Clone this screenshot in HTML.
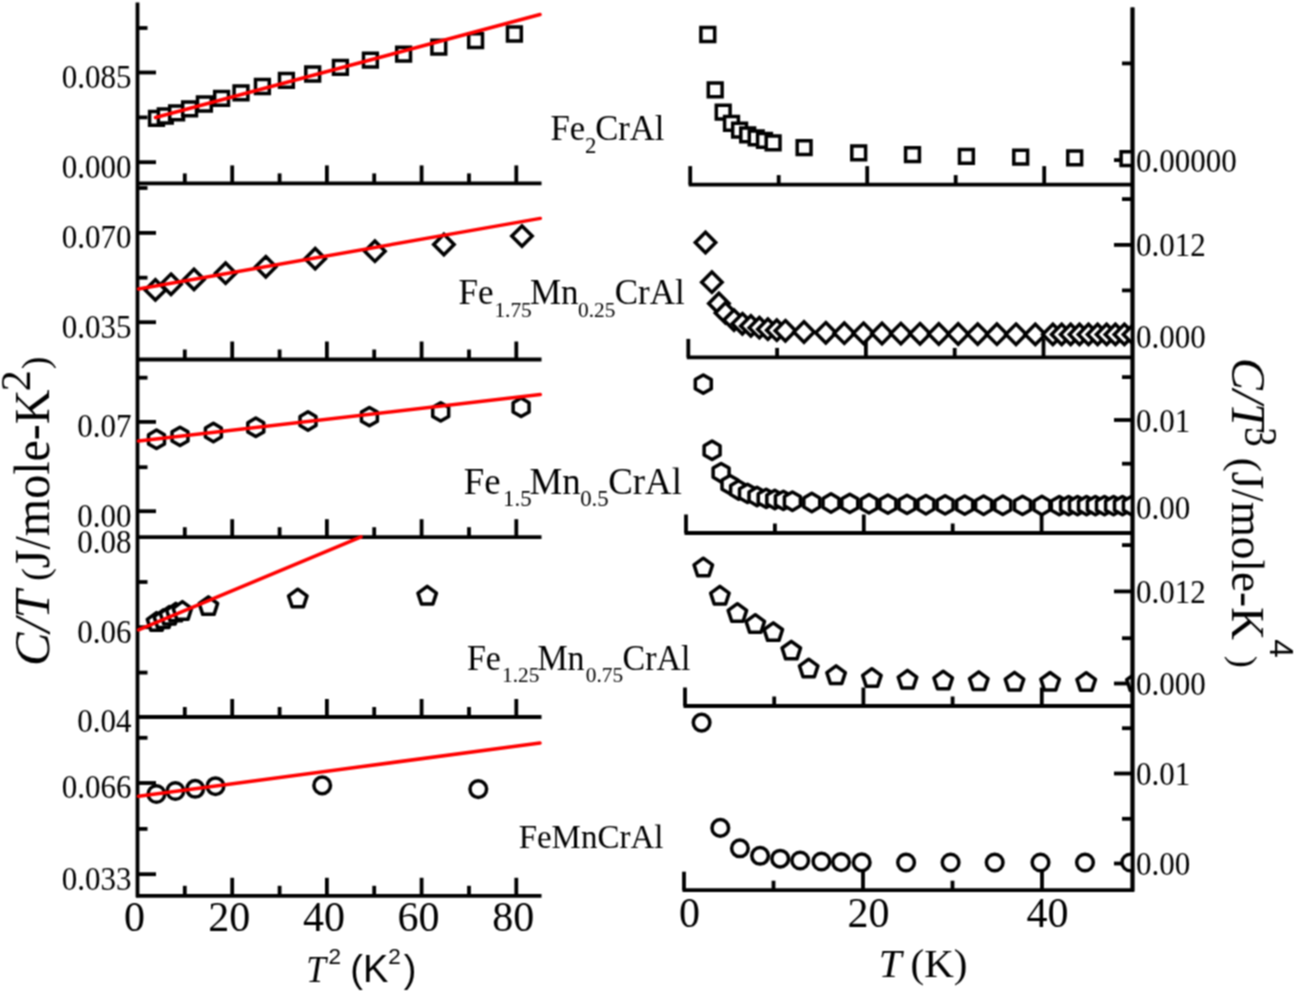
<!DOCTYPE html>
<html><head><meta charset="utf-8"><style>html,body{margin:0;padding:0;background:#fff;}svg{display:block}</style></head>
<body><div style=""><svg width="1296" height="993" viewBox="0 0 1296 993" style="will-change:transform">
<rect width="1296" height="993" fill="#fff"/>
<defs><filter id="soft" x="0" y="0" width="1296" height="993" filterUnits="userSpaceOnUse" color-interpolation-filters="sRGB"><feConvolveMatrix order="3" kernelMatrix="1 2 1 2 4 2 1 2 1" edgeMode="duplicate"/></filter></defs><g filter="url(#soft)">
<line x1="137.5" y1="2.5" x2="137.5" y2="897.3" stroke="#000" stroke-width="3.8"/>
<line x1="136.0" y1="183.4" x2="541.5" y2="183.4" stroke="#000" stroke-width="3.8"/>
<line x1="136.0" y1="359.5" x2="541.5" y2="359.5" stroke="#000" stroke-width="3.8"/>
<line x1="136.0" y1="537.2" x2="541.5" y2="537.2" stroke="#000" stroke-width="3.8"/>
<line x1="136.0" y1="717.0" x2="541.5" y2="717.0" stroke="#000" stroke-width="3.8"/>
<line x1="136.0" y1="895.8" x2="541.5" y2="895.8" stroke="#000" stroke-width="3.8"/>
<line x1="184.8" y1="183.4" x2="184.8" y2="173.4" stroke="#000" stroke-width="3.8"/>
<line x1="232.2" y1="183.4" x2="232.2" y2="165.4" stroke="#000" stroke-width="3.8"/>
<line x1="279.6" y1="183.4" x2="279.6" y2="173.4" stroke="#000" stroke-width="3.8"/>
<line x1="326.9" y1="183.4" x2="326.9" y2="165.4" stroke="#000" stroke-width="3.8"/>
<line x1="374.2" y1="183.4" x2="374.2" y2="173.4" stroke="#000" stroke-width="3.8"/>
<line x1="421.6" y1="183.4" x2="421.6" y2="165.4" stroke="#000" stroke-width="3.8"/>
<line x1="469.0" y1="183.4" x2="469.0" y2="173.4" stroke="#000" stroke-width="3.8"/>
<line x1="516.3" y1="183.4" x2="516.3" y2="165.4" stroke="#000" stroke-width="3.8"/>
<line x1="184.8" y1="359.5" x2="184.8" y2="349.5" stroke="#000" stroke-width="3.8"/>
<line x1="232.2" y1="359.5" x2="232.2" y2="341.5" stroke="#000" stroke-width="3.8"/>
<line x1="279.6" y1="359.5" x2="279.6" y2="349.5" stroke="#000" stroke-width="3.8"/>
<line x1="326.9" y1="359.5" x2="326.9" y2="341.5" stroke="#000" stroke-width="3.8"/>
<line x1="374.2" y1="359.5" x2="374.2" y2="349.5" stroke="#000" stroke-width="3.8"/>
<line x1="421.6" y1="359.5" x2="421.6" y2="341.5" stroke="#000" stroke-width="3.8"/>
<line x1="469.0" y1="359.5" x2="469.0" y2="349.5" stroke="#000" stroke-width="3.8"/>
<line x1="516.3" y1="359.5" x2="516.3" y2="341.5" stroke="#000" stroke-width="3.8"/>
<line x1="184.8" y1="537.2" x2="184.8" y2="527.2" stroke="#000" stroke-width="3.8"/>
<line x1="232.2" y1="537.2" x2="232.2" y2="519.2" stroke="#000" stroke-width="3.8"/>
<line x1="279.6" y1="537.2" x2="279.6" y2="527.2" stroke="#000" stroke-width="3.8"/>
<line x1="326.9" y1="537.2" x2="326.9" y2="519.2" stroke="#000" stroke-width="3.8"/>
<line x1="374.2" y1="537.2" x2="374.2" y2="527.2" stroke="#000" stroke-width="3.8"/>
<line x1="421.6" y1="537.2" x2="421.6" y2="519.2" stroke="#000" stroke-width="3.8"/>
<line x1="469.0" y1="537.2" x2="469.0" y2="527.2" stroke="#000" stroke-width="3.8"/>
<line x1="516.3" y1="537.2" x2="516.3" y2="519.2" stroke="#000" stroke-width="3.8"/>
<line x1="184.8" y1="717.0" x2="184.8" y2="707.0" stroke="#000" stroke-width="3.8"/>
<line x1="232.2" y1="717.0" x2="232.2" y2="699.0" stroke="#000" stroke-width="3.8"/>
<line x1="279.6" y1="717.0" x2="279.6" y2="707.0" stroke="#000" stroke-width="3.8"/>
<line x1="326.9" y1="717.0" x2="326.9" y2="699.0" stroke="#000" stroke-width="3.8"/>
<line x1="374.2" y1="717.0" x2="374.2" y2="707.0" stroke="#000" stroke-width="3.8"/>
<line x1="421.6" y1="717.0" x2="421.6" y2="699.0" stroke="#000" stroke-width="3.8"/>
<line x1="469.0" y1="717.0" x2="469.0" y2="707.0" stroke="#000" stroke-width="3.8"/>
<line x1="516.3" y1="717.0" x2="516.3" y2="699.0" stroke="#000" stroke-width="3.8"/>
<line x1="184.8" y1="895.8" x2="184.8" y2="885.8" stroke="#000" stroke-width="3.8"/>
<line x1="232.2" y1="895.8" x2="232.2" y2="877.8" stroke="#000" stroke-width="3.8"/>
<line x1="279.6" y1="895.8" x2="279.6" y2="885.8" stroke="#000" stroke-width="3.8"/>
<line x1="326.9" y1="895.8" x2="326.9" y2="877.8" stroke="#000" stroke-width="3.8"/>
<line x1="374.2" y1="895.8" x2="374.2" y2="885.8" stroke="#000" stroke-width="3.8"/>
<line x1="421.6" y1="895.8" x2="421.6" y2="877.8" stroke="#000" stroke-width="3.8"/>
<line x1="469.0" y1="895.8" x2="469.0" y2="885.8" stroke="#000" stroke-width="3.8"/>
<line x1="516.3" y1="895.8" x2="516.3" y2="877.8" stroke="#000" stroke-width="3.8"/>
<line x1="137.5" y1="72.5" x2="156.0" y2="72.5" stroke="#000" stroke-width="3.8"/>
<line x1="137.5" y1="162.2" x2="156.0" y2="162.2" stroke="#000" stroke-width="3.8"/>
<line x1="137.5" y1="28.0" x2="147.5" y2="28.0" stroke="#000" stroke-width="3.8"/>
<line x1="137.5" y1="117.4" x2="147.5" y2="117.4" stroke="#000" stroke-width="3.8"/>
<line x1="137.5" y1="232.9" x2="156.0" y2="232.9" stroke="#000" stroke-width="3.8"/>
<line x1="137.5" y1="322.2" x2="156.0" y2="322.2" stroke="#000" stroke-width="3.8"/>
<line x1="137.5" y1="188.0" x2="147.5" y2="188.0" stroke="#000" stroke-width="3.8"/>
<line x1="137.5" y1="277.7" x2="147.5" y2="277.7" stroke="#000" stroke-width="3.8"/>
<line x1="137.5" y1="421.9" x2="156.0" y2="421.9" stroke="#000" stroke-width="3.8"/>
<line x1="137.5" y1="511.2" x2="156.0" y2="511.2" stroke="#000" stroke-width="3.8"/>
<line x1="137.5" y1="377.7" x2="147.5" y2="377.7" stroke="#000" stroke-width="3.8"/>
<line x1="137.5" y1="467.2" x2="147.5" y2="467.2" stroke="#000" stroke-width="3.8"/>
<line x1="137.5" y1="627.2" x2="156.0" y2="627.2" stroke="#000" stroke-width="3.8"/>
<line x1="137.5" y1="582.0" x2="147.5" y2="582.0" stroke="#000" stroke-width="3.8"/>
<line x1="137.5" y1="672.6" x2="147.5" y2="672.6" stroke="#000" stroke-width="3.8"/>
<line x1="137.5" y1="783.0" x2="156.0" y2="783.0" stroke="#000" stroke-width="3.8"/>
<line x1="137.5" y1="874.2" x2="156.0" y2="874.2" stroke="#000" stroke-width="3.8"/>
<line x1="137.5" y1="737.8" x2="147.5" y2="737.8" stroke="#000" stroke-width="3.8"/>
<line x1="137.5" y1="828.9" x2="147.5" y2="828.9" stroke="#000" stroke-width="3.8"/>
<text transform="translate(131.5,87.9) scale(0.94,1)" font-size="33" font-family="Liberation Serif" text-anchor="end" >0.085</text>
<text transform="translate(131.5,177.6) scale(0.94,1)" font-size="33" font-family="Liberation Serif" text-anchor="end" >0.000</text>
<text transform="translate(131.5,248.3) scale(0.94,1)" font-size="33" font-family="Liberation Serif" text-anchor="end" >0.070</text>
<text transform="translate(131.5,337.6) scale(0.94,1)" font-size="33" font-family="Liberation Serif" text-anchor="end" >0.035</text>
<text transform="translate(131.5,437.3) scale(0.94,1)" font-size="33" font-family="Liberation Serif" text-anchor="end" >0.07</text>
<text transform="translate(131.5,526.6) scale(0.94,1)" font-size="33" font-family="Liberation Serif" text-anchor="end" >0.00</text>
<text transform="translate(131.5,552.7) scale(0.94,1)" font-size="33" font-family="Liberation Serif" text-anchor="end" >0.08</text>
<text transform="translate(131.5,642.6) scale(0.94,1)" font-size="33" font-family="Liberation Serif" text-anchor="end" >0.06</text>
<text transform="translate(131.5,732.4) scale(0.94,1)" font-size="33" font-family="Liberation Serif" text-anchor="end" >0.04</text>
<text transform="translate(131.5,798.4) scale(0.94,1)" font-size="33" font-family="Liberation Serif" text-anchor="end" >0.066</text>
<text transform="translate(131.5,889.6) scale(0.94,1)" font-size="33" font-family="Liberation Serif" text-anchor="end" >0.033</text>
<text transform="translate(134.5,930.5) scale(1.0,1)" font-size="42" font-family="Liberation Serif" text-anchor="middle" >0</text>
<text transform="translate(229.2,930.5) scale(1.0,1)" font-size="42" font-family="Liberation Serif" text-anchor="middle" >20</text>
<text transform="translate(323.9,930.5) scale(1.0,1)" font-size="42" font-family="Liberation Serif" text-anchor="middle" >40</text>
<text transform="translate(418.6,930.5) scale(1.0,1)" font-size="42" font-family="Liberation Serif" text-anchor="middle" >60</text>
<text transform="translate(513.3,930.5) scale(1.0,1)" font-size="42" font-family="Liberation Serif" text-anchor="middle" >80</text>
<line x1="1132.5" y1="7.5" x2="1132.5" y2="891.6" stroke="#000" stroke-width="3.8"/>
<line x1="688.7" y1="184.6" x2="1134.0" y2="184.6" stroke="#000" stroke-width="3.8"/>
<line x1="690.2" y1="184.6" x2="690.2" y2="166.1" stroke="#000" stroke-width="3.8"/>
<line x1="778.7" y1="184.6" x2="778.7" y2="175.1" stroke="#000" stroke-width="3.8"/>
<line x1="867.2" y1="184.6" x2="867.2" y2="166.1" stroke="#000" stroke-width="3.8"/>
<line x1="955.7" y1="184.6" x2="955.7" y2="175.1" stroke="#000" stroke-width="3.8"/>
<line x1="1044.2" y1="184.6" x2="1044.2" y2="166.1" stroke="#000" stroke-width="3.8"/>
<line x1="686.8" y1="357.4" x2="1134.0" y2="357.4" stroke="#000" stroke-width="3.8"/>
<line x1="688.3" y1="357.4" x2="688.3" y2="338.9" stroke="#000" stroke-width="3.8"/>
<line x1="777.1" y1="357.4" x2="777.1" y2="347.9" stroke="#000" stroke-width="3.8"/>
<line x1="865.9" y1="357.4" x2="865.9" y2="338.9" stroke="#000" stroke-width="3.8"/>
<line x1="954.7" y1="357.4" x2="954.7" y2="347.9" stroke="#000" stroke-width="3.8"/>
<line x1="1043.5" y1="357.4" x2="1043.5" y2="338.9" stroke="#000" stroke-width="3.8"/>
<line x1="684.5" y1="533.0" x2="1134.0" y2="533.0" stroke="#000" stroke-width="3.8"/>
<line x1="686.0" y1="533.0" x2="686.0" y2="514.5" stroke="#000" stroke-width="3.8"/>
<line x1="774.9" y1="533.0" x2="774.9" y2="523.5" stroke="#000" stroke-width="3.8"/>
<line x1="863.8" y1="533.0" x2="863.8" y2="514.5" stroke="#000" stroke-width="3.8"/>
<line x1="952.7" y1="533.0" x2="952.7" y2="523.5" stroke="#000" stroke-width="3.8"/>
<line x1="1041.6" y1="533.0" x2="1041.6" y2="514.5" stroke="#000" stroke-width="3.8"/>
<line x1="683.5" y1="706.0" x2="1134.0" y2="706.0" stroke="#000" stroke-width="3.8"/>
<line x1="685.0" y1="706.0" x2="685.0" y2="687.5" stroke="#000" stroke-width="3.8"/>
<line x1="774.2" y1="706.0" x2="774.2" y2="696.5" stroke="#000" stroke-width="3.8"/>
<line x1="863.4" y1="706.0" x2="863.4" y2="687.5" stroke="#000" stroke-width="3.8"/>
<line x1="952.6" y1="706.0" x2="952.6" y2="696.5" stroke="#000" stroke-width="3.8"/>
<line x1="1041.8" y1="706.0" x2="1041.8" y2="687.5" stroke="#000" stroke-width="3.8"/>
<line x1="682.5" y1="890.2" x2="1134.0" y2="890.2" stroke="#000" stroke-width="3.8"/>
<line x1="684.0" y1="890.2" x2="684.0" y2="871.7" stroke="#000" stroke-width="3.8"/>
<line x1="773.5" y1="890.2" x2="773.5" y2="880.7" stroke="#000" stroke-width="3.8"/>
<line x1="863.0" y1="890.2" x2="863.0" y2="871.7" stroke="#000" stroke-width="3.8"/>
<line x1="952.5" y1="890.2" x2="952.5" y2="880.7" stroke="#000" stroke-width="3.8"/>
<line x1="1042.0" y1="890.2" x2="1042.0" y2="871.7" stroke="#000" stroke-width="3.8"/>
<line x1="1132.5" y1="63.4" x2="1122.0" y2="63.4" stroke="#000" stroke-width="3.8"/>
<line x1="1132.5" y1="160.1" x2="1114.0" y2="160.1" stroke="#000" stroke-width="3.8"/>
<line x1="1132.5" y1="199.1" x2="1122.0" y2="199.1" stroke="#000" stroke-width="3.8"/>
<line x1="1132.5" y1="244.9" x2="1114.0" y2="244.9" stroke="#000" stroke-width="3.8"/>
<line x1="1132.5" y1="290.4" x2="1122.0" y2="290.4" stroke="#000" stroke-width="3.8"/>
<line x1="1132.5" y1="336.1" x2="1114.0" y2="336.1" stroke="#000" stroke-width="3.8"/>
<line x1="1132.5" y1="377.1" x2="1122.0" y2="377.1" stroke="#000" stroke-width="3.8"/>
<line x1="1132.5" y1="420.0" x2="1114.0" y2="420.0" stroke="#000" stroke-width="3.8"/>
<line x1="1132.5" y1="463.7" x2="1122.0" y2="463.7" stroke="#000" stroke-width="3.8"/>
<line x1="1132.5" y1="507.0" x2="1114.0" y2="507.0" stroke="#000" stroke-width="3.8"/>
<line x1="1132.5" y1="545.1" x2="1122.0" y2="545.1" stroke="#000" stroke-width="3.8"/>
<line x1="1132.5" y1="591.4" x2="1114.0" y2="591.4" stroke="#000" stroke-width="3.8"/>
<line x1="1132.5" y1="638.2" x2="1122.0" y2="638.2" stroke="#000" stroke-width="3.8"/>
<line x1="1132.5" y1="683.5" x2="1114.0" y2="683.5" stroke="#000" stroke-width="3.8"/>
<line x1="1132.5" y1="728.2" x2="1122.0" y2="728.2" stroke="#000" stroke-width="3.8"/>
<line x1="1132.5" y1="773.5" x2="1114.0" y2="773.5" stroke="#000" stroke-width="3.8"/>
<line x1="1132.5" y1="818.8" x2="1122.0" y2="818.8" stroke="#000" stroke-width="3.8"/>
<line x1="1132.5" y1="863.5" x2="1114.0" y2="863.5" stroke="#000" stroke-width="3.8"/>
<text transform="translate(1136.0,171.6) scale(0.94,1)" font-size="33" font-family="Liberation Serif" text-anchor="start" >0.00000</text>
<text transform="translate(1136.0,256.4) scale(0.94,1)" font-size="33" font-family="Liberation Serif" text-anchor="start" >0.012</text>
<text transform="translate(1136.0,347.6) scale(0.94,1)" font-size="33" font-family="Liberation Serif" text-anchor="start" >0.000</text>
<text transform="translate(1136.0,431.5) scale(0.94,1)" font-size="33" font-family="Liberation Serif" text-anchor="start" >0.01</text>
<text transform="translate(1136.0,518.5) scale(0.94,1)" font-size="33" font-family="Liberation Serif" text-anchor="start" >0.00</text>
<text transform="translate(1136.0,602.9) scale(0.94,1)" font-size="33" font-family="Liberation Serif" text-anchor="start" >0.012</text>
<text transform="translate(1136.0,695.0) scale(0.94,1)" font-size="33" font-family="Liberation Serif" text-anchor="start" >0.000</text>
<text transform="translate(1136.0,785.0) scale(0.94,1)" font-size="33" font-family="Liberation Serif" text-anchor="start" >0.01</text>
<text transform="translate(1136.0,875.0) scale(0.94,1)" font-size="33" font-family="Liberation Serif" text-anchor="start" >0.00</text>
<text transform="translate(689.5,927.3) scale(1.0,1)" font-size="42" font-family="Liberation Serif" text-anchor="middle" >0</text>
<text transform="translate(868.5,927.3) scale(1.0,1)" font-size="42" font-family="Liberation Serif" text-anchor="middle" >20</text>
<text transform="translate(1047.5,927.3) scale(1.0,1)" font-size="42" font-family="Liberation Serif" text-anchor="middle" >40</text>
<defs><clipPath id="cr"><rect x="0" y="0" width="1133" height="993"/></clipPath></defs>
<g fill="#fff" stroke="#000" stroke-width="3.5" stroke-linejoin="miter" clip-path="url(#cr)">
<polygon points="149.60,111.40 163.40,111.40 163.40,125.20 149.60,125.20"/>
<polygon points="158.40,109.10 172.20,109.10 172.20,122.90 158.40,122.90"/>
<polygon points="169.70,105.90 183.50,105.90 183.50,119.70 169.70,119.70"/>
<polygon points="182.70,101.90 196.50,101.90 196.50,115.70 182.70,115.70"/>
<polygon points="197.50,97.10 211.30,97.10 211.30,110.90 197.50,110.90"/>
<polygon points="214.70,91.40 228.50,91.40 228.50,105.20 214.70,105.20"/>
<polygon points="234.10,86.00 247.90,86.00 247.90,99.80 234.10,99.80"/>
<polygon points="255.50,79.60 269.30,79.60 269.30,93.40 255.50,93.40"/>
<polygon points="279.50,73.40 293.30,73.40 293.30,87.20 279.50,87.20"/>
<polygon points="305.80,67.10 319.60,67.10 319.60,80.90 305.80,80.90"/>
<polygon points="333.50,60.40 347.30,60.40 347.30,74.20 333.50,74.20"/>
<polygon points="363.50,53.30 377.30,53.30 377.30,67.10 363.50,67.10"/>
<polygon points="396.70,47.30 410.50,47.30 410.50,61.10 396.70,61.10"/>
<polygon points="431.90,40.30 445.70,40.30 445.70,54.10 431.90,54.10"/>
<polygon points="468.70,33.70 482.50,33.70 482.50,47.50 468.70,47.50"/>
<polygon points="507.50,27.10 521.30,27.10 521.30,40.90 507.50,40.90"/>
<polygon points="700.90,27.60 714.70,27.60 714.70,41.40 700.90,41.40"/>
<polygon points="708.30,83.00 722.10,83.00 722.10,96.80 708.30,96.80"/>
<polygon points="716.30,105.30 730.10,105.30 730.10,119.10 716.30,119.10"/>
<polygon points="724.60,116.50 738.40,116.50 738.40,130.30 724.60,130.30"/>
<polygon points="732.70,123.30 746.50,123.30 746.50,137.10 732.70,137.10"/>
<polygon points="740.80,128.00 754.60,128.00 754.60,141.80 740.80,141.80"/>
<polygon points="749.30,131.00 763.10,131.00 763.10,144.80 749.30,144.80"/>
<polygon points="757.60,133.50 771.40,133.50 771.40,147.30 757.60,147.30"/>
<polygon points="766.20,135.90 780.00,135.90 780.00,149.70 766.20,149.70"/>
<polygon points="797.20,140.70 811.00,140.70 811.00,154.50 797.20,154.50"/>
<polygon points="851.80,145.90 865.60,145.90 865.60,159.70 851.80,159.70"/>
<polygon points="905.60,147.80 919.40,147.80 919.40,161.60 905.60,161.60"/>
<polygon points="959.50,149.50 973.30,149.50 973.30,163.30 959.50,163.30"/>
<polygon points="1013.80,150.20 1027.60,150.20 1027.60,164.00 1013.80,164.00"/>
<polygon points="1067.80,150.90 1081.60,150.90 1081.60,164.70 1067.80,164.70"/>
<polygon points="1121.10,151.70 1134.90,151.70 1134.90,165.50 1121.10,165.50"/>
<polygon points="155.40,279.70 165.60,289.90 155.40,300.10 145.20,289.90"/>
<polygon points="171.00,274.10 181.20,284.30 171.00,294.50 160.80,284.30"/>
<polygon points="194.00,269.20 204.20,279.40 194.00,289.60 183.80,279.40"/>
<polygon points="225.60,263.00 235.80,273.20 225.60,283.40 215.40,273.20"/>
<polygon points="265.80,256.60 276.00,266.80 265.80,277.00 255.60,266.80"/>
<polygon points="315.20,248.50 325.40,258.70 315.20,268.90 305.00,258.70"/>
<polygon points="374.90,241.00 385.10,251.20 374.90,261.40 364.70,251.20"/>
<polygon points="443.90,234.30 454.10,244.50 443.90,254.70 433.70,244.50"/>
<polygon points="522.00,225.90 532.20,236.10 522.00,246.30 511.80,236.10"/>
<polygon points="705.50,232.30 715.70,242.50 705.50,252.70 695.30,242.50"/>
<polygon points="711.90,272.00 722.10,282.20 711.90,292.40 701.70,282.20"/>
<polygon points="718.90,293.30 729.10,303.50 718.90,313.70 708.70,303.50"/>
<polygon points="725.50,302.70 735.70,312.90 725.50,323.10 715.30,312.90"/>
<polygon points="734.00,309.90 744.20,320.10 734.00,330.30 723.80,320.10"/>
<polygon points="742.40,313.60 752.60,323.80 742.40,334.00 732.20,323.80"/>
<polygon points="750.90,315.70 761.10,325.90 750.90,336.10 740.70,325.90"/>
<polygon points="759.40,317.50 769.60,327.70 759.40,337.90 749.20,327.70"/>
<polygon points="767.90,319.00 778.10,329.20 767.90,339.40 757.70,329.20"/>
<polygon points="776.80,320.00 787.00,330.20 776.80,340.40 766.60,330.20"/>
<polygon points="785.40,320.60 795.60,330.80 785.40,341.00 775.20,330.80"/>
<polygon points="804.00,321.80 814.20,332.00 804.00,342.20 793.80,332.00"/>
<polygon points="825.80,322.60 836.00,332.80 825.80,343.00 815.60,332.80"/>
<polygon points="844.30,323.00 854.50,333.20 844.30,343.40 834.10,333.20"/>
<polygon points="863.50,323.10 873.70,333.30 863.50,343.50 853.30,333.30"/>
<polygon points="882.00,323.30 892.20,333.50 882.00,343.70 871.80,333.50"/>
<polygon points="900.90,323.40 911.10,333.60 900.90,343.80 890.70,333.60"/>
<polygon points="920.00,323.60 930.20,333.80 920.00,344.00 909.80,333.80"/>
<polygon points="938.80,323.80 949.00,334.00 938.80,344.20 928.60,334.00"/>
<polygon points="958.20,323.80 968.40,334.00 958.20,344.20 948.00,334.00"/>
<polygon points="977.70,323.90 987.90,334.10 977.70,344.30 967.50,334.10"/>
<polygon points="996.90,324.00 1007.10,334.20 996.90,344.40 986.70,334.20"/>
<polygon points="1016.00,324.10 1026.20,334.30 1016.00,344.50 1005.80,334.30"/>
<polygon points="1035.30,324.20 1045.50,334.40 1035.30,344.60 1025.10,334.40"/>
<polygon points="1052.90,324.20 1063.10,334.40 1052.90,344.60 1042.70,334.40"/>
<polygon points="1061.70,324.20 1071.90,334.40 1061.70,344.60 1051.50,334.40"/>
<polygon points="1070.70,324.20 1080.90,334.40 1070.70,344.60 1060.50,334.40"/>
<polygon points="1079.50,324.20 1089.70,334.40 1079.50,344.60 1069.30,334.40"/>
<polygon points="1088.50,324.20 1098.70,334.40 1088.50,344.60 1078.30,334.40"/>
<polygon points="1097.60,324.20 1107.80,334.40 1097.60,344.60 1087.40,334.40"/>
<polygon points="1106.60,324.20 1116.80,334.40 1106.60,344.60 1096.40,334.40"/>
<polygon points="1115.40,324.20 1125.60,334.40 1115.40,344.60 1105.20,334.40"/>
<polygon points="1124.40,324.20 1134.60,334.40 1124.40,344.60 1114.20,334.40"/>
<polygon points="1133.50,324.20 1143.70,334.40 1133.50,344.60 1123.30,334.40"/>
<polygon stroke-linejoin="round" points="156.50,430.10 164.47,434.70 164.47,443.90 156.50,448.50 148.53,443.90 148.53,434.70"/>
<polygon stroke-linejoin="round" points="180.00,427.20 187.97,431.80 187.97,441.00 180.00,445.60 172.03,441.00 172.03,431.80"/>
<polygon stroke-linejoin="round" points="213.40,423.30 221.37,427.90 221.37,437.10 213.40,441.70 205.43,437.10 205.43,427.90"/>
<polygon stroke-linejoin="round" points="255.80,418.10 263.77,422.70 263.77,431.90 255.80,436.50 247.83,431.90 247.83,422.70"/>
<polygon stroke-linejoin="round" points="308.00,411.80 315.97,416.40 315.97,425.60 308.00,430.20 300.03,425.60 300.03,416.40"/>
<polygon stroke-linejoin="round" points="369.40,407.40 377.37,412.00 377.37,421.20 369.40,425.80 361.43,421.20 361.43,412.00"/>
<polygon stroke-linejoin="round" points="440.70,402.70 448.67,407.30 448.67,416.50 440.70,421.10 432.73,416.50 432.73,407.30"/>
<polygon stroke-linejoin="round" points="521.10,398.10 529.07,402.70 529.07,411.90 521.10,416.50 513.13,411.90 513.13,402.70"/>
<polygon stroke-linejoin="round" points="703.30,374.90 711.27,379.50 711.27,388.70 703.30,393.30 695.33,388.70 695.33,379.50"/>
<polygon stroke-linejoin="round" points="712.10,441.10 720.07,445.70 720.07,454.90 712.10,459.50 704.13,454.90 704.13,445.70"/>
<polygon stroke-linejoin="round" points="721.10,463.50 729.07,468.10 729.07,477.30 721.10,481.90 713.13,477.30 713.13,468.10"/>
<polygon stroke-linejoin="round" points="730.00,475.40 737.97,480.00 737.97,489.20 730.00,493.80 722.03,489.20 722.03,480.00"/>
<polygon stroke-linejoin="round" points="738.60,480.80 746.57,485.40 746.57,494.60 738.60,499.20 730.63,494.60 730.63,485.40"/>
<polygon stroke-linejoin="round" points="747.50,484.20 755.47,488.80 755.47,498.00 747.50,502.60 739.53,498.00 739.53,488.80"/>
<polygon stroke-linejoin="round" points="757.00,487.30 764.97,491.90 764.97,501.10 757.00,505.70 749.03,501.10 749.03,491.90"/>
<polygon stroke-linejoin="round" points="766.20,489.20 774.17,493.80 774.17,503.00 766.20,507.60 758.23,503.00 758.23,493.80"/>
<polygon stroke-linejoin="round" points="774.80,490.30 782.77,494.90 782.77,504.10 774.80,508.70 766.83,504.10 766.83,494.90"/>
<polygon stroke-linejoin="round" points="783.40,491.20 791.37,495.80 791.37,505.00 783.40,509.60 775.43,505.00 775.43,495.80"/>
<polygon stroke-linejoin="round" points="792.40,492.00 800.37,496.60 800.37,505.80 792.40,510.40 784.43,505.80 784.43,496.60"/>
<polygon stroke-linejoin="round" points="811.80,493.30 819.77,497.90 819.77,507.10 811.80,511.70 803.83,507.10 803.83,497.90"/>
<polygon stroke-linejoin="round" points="831.00,493.80 838.97,498.40 838.97,507.60 831.00,512.20 823.03,507.60 823.03,498.40"/>
<polygon stroke-linejoin="round" points="849.80,494.20 857.77,498.80 857.77,508.00 849.80,512.60 841.83,508.00 841.83,498.80"/>
<polygon stroke-linejoin="round" points="869.00,494.60 876.97,499.20 876.97,508.40 869.00,513.00 861.03,508.40 861.03,499.20"/>
<polygon stroke-linejoin="round" points="887.90,494.90 895.87,499.50 895.87,508.70 887.90,513.30 879.93,508.70 879.93,499.50"/>
<polygon stroke-linejoin="round" points="907.00,495.20 914.97,499.80 914.97,509.00 907.00,513.60 899.03,509.00 899.03,499.80"/>
<polygon stroke-linejoin="round" points="925.90,495.50 933.87,500.10 933.87,509.30 925.90,513.90 917.93,509.30 917.93,500.10"/>
<polygon stroke-linejoin="round" points="945.10,495.70 953.07,500.30 953.07,509.50 945.10,514.10 937.13,509.50 937.13,500.30"/>
<polygon stroke-linejoin="round" points="964.70,495.90 972.67,500.50 972.67,509.70 964.70,514.30 956.73,509.70 956.73,500.50"/>
<polygon stroke-linejoin="round" points="983.60,496.00 991.57,500.60 991.57,509.80 983.60,514.40 975.63,509.80 975.63,500.60"/>
<polygon stroke-linejoin="round" points="1002.80,496.10 1010.77,500.70 1010.77,509.90 1002.80,514.50 994.83,509.90 994.83,500.70"/>
<polygon stroke-linejoin="round" points="1022.50,496.20 1030.47,500.80 1030.47,510.00 1022.50,514.60 1014.53,510.00 1014.53,500.80"/>
<polygon stroke-linejoin="round" points="1041.90,496.30 1049.87,500.90 1049.87,510.10 1041.90,514.70 1033.93,510.10 1033.93,500.90"/>
<polygon stroke-linejoin="round" points="1059.30,496.40 1067.27,501.00 1067.27,510.20 1059.30,514.80 1051.33,510.20 1051.33,501.00"/>
<polygon stroke-linejoin="round" points="1068.60,496.40 1076.57,501.00 1076.57,510.20 1068.60,514.80 1060.63,510.20 1060.63,501.00"/>
<polygon stroke-linejoin="round" points="1077.50,496.40 1085.47,501.00 1085.47,510.20 1077.50,514.80 1069.53,510.20 1069.53,501.00"/>
<polygon stroke-linejoin="round" points="1086.50,496.40 1094.47,501.00 1094.47,510.20 1086.50,514.80 1078.53,510.20 1078.53,501.00"/>
<polygon stroke-linejoin="round" points="1095.40,496.40 1103.37,501.00 1103.37,510.20 1095.40,514.80 1087.43,510.20 1087.43,501.00"/>
<polygon stroke-linejoin="round" points="1104.50,496.40 1112.47,501.00 1112.47,510.20 1104.50,514.80 1096.53,510.20 1096.53,501.00"/>
<polygon stroke-linejoin="round" points="1113.60,496.40 1121.57,501.00 1121.57,510.20 1113.60,514.80 1105.63,510.20 1105.63,501.00"/>
<polygon stroke-linejoin="round" points="1122.50,496.40 1130.47,501.00 1130.47,510.20 1122.50,514.80 1114.53,510.20 1114.53,501.00"/>
<polygon stroke-linejoin="round" points="1131.40,496.40 1139.37,501.00 1139.37,510.20 1131.40,514.80 1123.43,510.20 1123.43,501.00"/>
<polygon stroke-linejoin="round" points="156.50,612.60 165.73,619.30 162.20,630.15 150.80,630.15 147.27,619.30"/>
<polygon stroke-linejoin="round" points="163.30,609.90 172.53,616.60 169.00,627.45 157.60,627.45 154.07,616.60"/>
<polygon stroke-linejoin="round" points="169.50,606.50 178.73,613.20 175.20,624.05 163.80,624.05 160.27,613.20"/>
<polygon stroke-linejoin="round" points="175.80,603.30 185.03,610.00 181.50,620.85 170.10,620.85 166.57,610.00"/>
<polygon stroke-linejoin="round" points="182.40,601.60 191.63,608.30 188.10,619.15 176.70,619.15 173.17,608.30"/>
<polygon stroke-linejoin="round" points="208.40,596.80 217.63,603.50 214.10,614.35 202.70,614.35 199.17,603.50"/>
<polygon stroke-linejoin="round" points="297.80,589.20 307.03,595.90 303.50,606.75 292.10,606.75 288.57,595.90"/>
<polygon stroke-linejoin="round" points="427.20,586.40 436.43,593.10 432.90,603.95 421.50,603.95 417.97,593.10"/>
<polygon stroke-linejoin="round" points="703.30,558.20 712.53,564.90 709.00,575.75 697.60,575.75 694.07,564.90"/>
<polygon stroke-linejoin="round" points="719.90,586.40 729.13,593.10 725.60,603.95 714.20,603.95 710.67,593.10"/>
<polygon stroke-linejoin="round" points="737.40,603.70 746.63,610.40 743.10,621.25 731.70,621.25 728.17,610.40"/>
<polygon stroke-linejoin="round" points="755.30,614.70 764.53,621.40 761.00,632.25 749.60,632.25 746.07,621.40"/>
<polygon stroke-linejoin="round" points="773.30,622.80 782.53,629.50 779.00,640.35 767.60,640.35 764.07,629.50"/>
<polygon stroke-linejoin="round" points="791.30,641.30 800.53,648.00 797.00,658.85 785.60,658.85 782.07,648.00"/>
<polygon stroke-linejoin="round" points="808.70,659.20 817.93,665.90 814.40,676.75 803.00,676.75 799.47,665.90"/>
<polygon stroke-linejoin="round" points="836.10,665.90 845.33,672.60 841.80,683.45 830.40,683.45 826.87,672.60"/>
<polygon stroke-linejoin="round" points="871.90,668.70 881.13,675.40 877.60,686.25 866.20,686.25 862.67,675.40"/>
<polygon stroke-linejoin="round" points="907.50,670.40 916.73,677.10 913.20,687.95 901.80,687.95 898.27,677.10"/>
<polygon stroke-linejoin="round" points="943.20,671.20 952.43,677.90 948.90,688.75 937.50,688.75 933.97,677.90"/>
<polygon stroke-linejoin="round" points="978.80,671.90 988.03,678.60 984.50,689.45 973.10,689.45 969.57,678.60"/>
<polygon stroke-linejoin="round" points="1014.50,672.40 1023.73,679.10 1020.20,689.95 1008.80,689.95 1005.27,679.10"/>
<polygon stroke-linejoin="round" points="1050.10,672.50 1059.33,679.20 1055.80,690.05 1044.40,690.05 1040.87,679.20"/>
<polygon stroke-linejoin="round" points="1086.20,672.70 1095.43,679.40 1091.90,690.25 1080.50,690.25 1076.97,679.40"/>
<polygon stroke-linejoin="round" points="1136.00,672.90 1145.23,679.60 1141.70,690.45 1130.30,690.45 1126.77,679.60"/>
<circle cx="156.40" cy="794.00" r="8.3"/>
<circle cx="175.40" cy="791.00" r="8.3"/>
<circle cx="195.20" cy="788.80" r="8.3"/>
<circle cx="215.50" cy="786.20" r="8.3"/>
<circle cx="322.20" cy="785.40" r="8.3"/>
<circle cx="478.30" cy="789.10" r="8.3"/>
<circle cx="701.60" cy="722.60" r="8.3"/>
<circle cx="720.30" cy="827.90" r="8.3"/>
<circle cx="739.90" cy="848.30" r="8.3"/>
<circle cx="760.10" cy="855.80" r="8.3"/>
<circle cx="780.20" cy="858.70" r="8.3"/>
<circle cx="800.20" cy="860.50" r="8.3"/>
<circle cx="821.40" cy="861.50" r="8.3"/>
<circle cx="841.10" cy="862.10" r="8.3"/>
<circle cx="861.70" cy="862.40" r="8.3"/>
<circle cx="906.10" cy="862.50" r="8.3"/>
<circle cx="950.60" cy="862.50" r="8.3"/>
<circle cx="994.70" cy="862.50" r="8.3"/>
<circle cx="1040.50" cy="862.50" r="8.3"/>
<circle cx="1085.00" cy="862.50" r="8.3"/>
<circle cx="1130.30" cy="862.50" r="8.3"/>
</g>
<line x1="1132.5" y1="7.5" x2="1132.5" y2="891.6" stroke="#000" stroke-width="3.8"/>
<line x1="155.5" y1="117.5" x2="540.0" y2="14.5" stroke="#ff0000" stroke-width="3.5" stroke-linecap="round"/>
<line x1="138.5" y1="289.0" x2="540.3" y2="218.4" stroke="#ff0000" stroke-width="3.5" stroke-linecap="round"/>
<line x1="138.5" y1="441.0" x2="540.3" y2="394.5" stroke="#ff0000" stroke-width="3.5" stroke-linecap="round"/>
<line x1="138.5" y1="629.9" x2="361.1" y2="536.9" stroke="#ff0000" stroke-width="3.5" stroke-linecap="round"/>
<line x1="138.5" y1="796.2" x2="540.0" y2="743.0" stroke="#ff0000" stroke-width="3.5" stroke-linecap="round"/>
<text transform="translate(550.50,140.00) scale(0.99,1)" font-size="35" font-family="Liberation Serif">Fe</text>
<text transform="translate(585.00,152.50) scale(0.97,1)" font-size="23.5" font-family="Liberation Serif">2</text>
<text transform="translate(595.18,140.00) scale(0.99,1)" font-size="35" font-family="Liberation Serif">CrAl</text>
<text transform="translate(458.59,304.40) scale(1.0,1)" font-size="35" font-family="Liberation Serif">Fe</text>
<text transform="translate(494.42,316.50) scale(0.97,1)" font-size="22" font-family="Liberation Serif">1.75</text>
<text transform="translate(529.99,304.40) scale(1.0,1)" font-size="35" font-family="Liberation Serif">Mn</text>
<text transform="translate(578.09,316.50) scale(0.97,1)" font-size="22" font-family="Liberation Serif">0.25</text>
<text transform="translate(614.66,304.40) scale(1.0,1)" font-size="35" font-family="Liberation Serif">CrAl</text>
<text transform="translate(463.84,493.60) scale(0.97,1)" font-size="38" font-family="Liberation Serif">Fe</text>
<text transform="translate(503.10,506.00) scale(0.97,1)" font-size="23.5" font-family="Liberation Serif">1.5</text>
<text transform="translate(529.54,493.60) scale(0.97,1)" font-size="38" font-family="Liberation Serif">Mn</text>
<text transform="translate(580.13,506.00) scale(0.97,1)" font-size="23.5" font-family="Liberation Serif">0.5</text>
<text transform="translate(608.19,493.60) scale(0.97,1)" font-size="38" font-family="Liberation Serif">CrAl</text>
<text transform="translate(466.92,670.10) scale(0.97,1)" font-size="35" font-family="Liberation Serif">Fe</text>
<text transform="translate(502.02,682.40) scale(0.97,1)" font-size="22" font-family="Liberation Serif">1.25</text>
<text transform="translate(537.42,670.10) scale(0.97,1)" font-size="35" font-family="Liberation Serif">Mn</text>
<text transform="translate(585.79,682.40) scale(0.97,1)" font-size="22" font-family="Liberation Serif">0.75</text>
<text transform="translate(622.51,670.10) scale(0.97,1)" font-size="35" font-family="Liberation Serif">CrAl</text>
<text transform="translate(518.65,848.30) scale(0.97,1)" font-size="34" font-family="Liberation Serif">FeMnCrAl</text>
<text transform="translate(306.29,982.10) scale(0.93,1)" font-size="38" font-family="Liberation Serif" font-style="italic">T</text>
<text transform="translate(328.47,964.30) scale(1.0,1)" font-size="22.5" font-family="Liberation Sans">2</text>
<text transform="translate(350.34,982.10) scale(1.0,1)" font-size="38" font-family="Liberation Sans">(K</text>
<text transform="translate(388.27,964.30) scale(1.0,1)" font-size="22.5" font-family="Liberation Sans">2</text>
<text transform="translate(403.78,982.10) scale(1.0,1)" font-size="38" font-family="Liberation Sans">)</text>
<text transform="translate(878.82,977.40) scale(1.0,1)" font-size="41" font-family="Liberation Serif" font-style="italic">T</text>
<text transform="translate(910.60,977.40) scale(1.0,1)" font-size="41" font-family="Liberation Serif">(K)</text>
<text transform="translate(49.30,666.00) rotate(-90) scale(0.975,1)" font-size="51.5" font-family="Liberation Serif" font-style="italic">C/T</text>
<text transform="translate(48.00,581.01) rotate(-90) scale(1.0,1)" font-size="38.8" font-family="Liberation Serif">(</text>
<text transform="translate(49.00,568.21) rotate(-90) scale(0.961,1)" font-size="50" font-family="Liberation Serif">J/mole-K</text>
<text transform="translate(30.20,391.15) rotate(-90) scale(1.0,1)" font-size="42" font-family="Liberation Serif">2</text>
<text transform="translate(48.00,369.34) rotate(-90) scale(1.0,1)" font-size="38.4" font-family="Liberation Serif">)</text>
<text transform="translate(1231.50,357.63) rotate(90) scale(1.0,1)" font-size="48" font-family="Liberation Serif" font-style="italic">C/T</text>
<text transform="translate(1245.40,426.91) rotate(90) scale(0.86,1)" font-size="46" font-family="Liberation Serif">3</text>
<text transform="translate(1231.70,457.75) rotate(90) scale(1.0,1)" font-size="42" font-family="Liberation Serif">(</text>
<text transform="translate(1232.00,471.45) rotate(90) scale(0.963,1)" font-size="47" font-family="Liberation Serif">J/mole-K</text>
<text transform="translate(1269.60,639.14) rotate(90) scale(1.0,1)" font-size="33" font-family="Liberation Sans">4</text>
<text transform="translate(1232.40,655.64) rotate(90) scale(1.0,1)" font-size="36" font-family="Liberation Serif">)</text>
</g>
</svg></div></body></html>
